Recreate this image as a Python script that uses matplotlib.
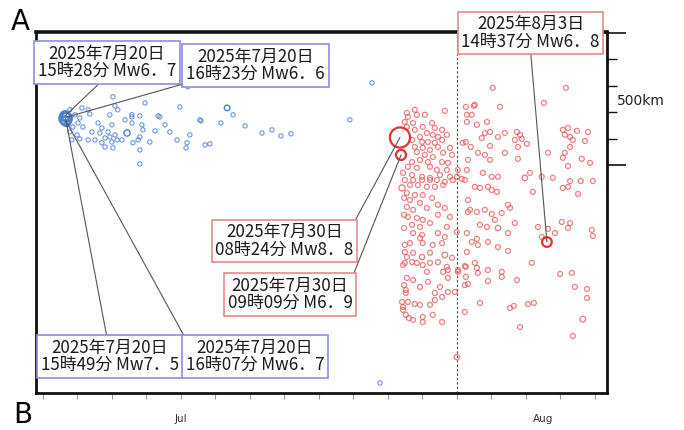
import numpy as np
import matplotlib.pyplot as plt

plt.rcParams['font.family'] = ['Noto Sans CJK JP', 'DejaVu Sans']

# time axis: day of July 2025 (32 = 1 Aug), y: distance along the trench in km

# aftershocks of the 20 Jul sequence (blue), small events
blue_t = [21.13, 21.31, 21.36, 21.07, 21.02, 20.87, 21.16, 20.99, 21.07, 21.31,
          21.60, 21.71, 21.94, 22.00, 21.89, 21.65, 21.80, 21.94, 22.09, 21.71,
          22.00, 21.80, 22.15, 22.03, 22.58, 22.58, 22.81, 22.87, 22.90, 22.76,
          22.81, 22.81, 22.61, 23.25, 23.34, 23.68, 23.89, 23.97, 24.18, 24.15,
          24.58, 24.70, 24.84, 25.16, 25.51, 25.86, 26.35, 26.64, 26.90, 27.19,
          22.81, 22.03, 22.09, 22.96, 23.39, 24.55, 22.58, 29.54, 28.90, 29.77,
          24.20, 20.78, 20.93, 20.72, 20.78, 20.84, 21.42, 21.51, 22.29, 22.38,
          22.17, 23.10, 23.54, 24.26]
blue_km = [1080, 1073, 1057, 1042, 1023, 1008, 1008, 978, 963, 959,
           1023, 1004, 1054, 1016, 989, 985, 966, 970, 978, 948,
           951, 932, 959, 929, 1054, 1023, 1050, 1016, 997, 959,
           970, 921, 948, 993, 1050, 989, 959, 1084, 948, 929,
           1031, 940, 944, 1023, 1054, 1012, 985, 997, 974, 982,
           868, 1122, 1088, 1099, 1046, 1035, 1046, 1175, 1035, 38,
           1160, 1073, 1054, 1027, 989, 959, 989, 959, 959, 1035,
           1073, 951, 1016, 978]
blue_big_t = [22.44, 25.34, 20.70]
blue_big_km = [985, 1080, 1020]
blue_big_mag = [5.6, 5.3, 5.4]

# 20 Jul main events
blue_main_t = [20.644, 20.659, 20.671, 20.682]
blue_main_km = [1050, 1040, 1030, 1045]
blue_main_mag = [6.7, 7.5, 6.7, 6.6]
blue_main_text = ['2025年7月20日\n15時28分 Mw6．7',
                  '2025年7月20日\n15時49分 Mw7．5',
                  '2025年7月20日\n16時07分 Mw6．7',
                  '2025年7月20日\n16時23分 Mw6．6']

# aftershocks of the 30 Jul sequence (red), small events
red_t = [30.55, 30.78, 30.84, 31.07, 31.65, 30.49, 30.73, 30.55, 30.78, 31.01,
         31.28, 31.36, 31.57, 31.13, 30.93, 31.30, 31.45, 31.71, 30.70, 30.99,
         31.16, 31.36, 31.57, 30.78, 31.01, 31.22, 31.45, 31.80, 30.84, 31.07,
         31.30, 31.60, 31.86, 30.70, 30.93, 31.16, 31.57, 31.74, 30.58, 30.84,
         31.22, 31.42, 31.71, 32.03, 30.44, 30.70, 30.99, 31.22, 31.51, 31.80,
         32.00, 30.49, 30.73, 30.99, 31.22, 31.42, 31.65, 31.88, 32.14, 30.64,
         30.87, 31.13, 31.36, 31.60, 30.55, 30.78, 31.01, 31.28, 30.64, 30.93,
         31.45, 30.55, 30.73, 31.13, 31.65, 30.58, 30.84, 31.01, 31.45, 31.80,
         30.70, 30.93, 31.22, 31.71, 30.73, 30.99, 31.45, 32.00, 32.26, 32.29,
         32.26, 32.23, 32.29,
         30.93, 31.65, 30.49, 30.64, 31.01, 31.30, 31.57, 30.49, 30.73, 30.55,
         31.22, 31.86, 30.49, 30.70, 30.84, 31.01, 31.22, 31.45, 31.71, 31.13,
         31.60, 31.74, 32.03, 31.74, 30.55, 30.73, 31.16, 31.51, 30.52, 30.52,
         31.36, 31.57, 31.74, 31.94, 31.36, 30.41, 30.58, 30.78, 30.93, 31.22,
         30.44, 30.44, 30.73, 31.01, 31.01, 31.30, 31.57, 32.23, 32.29, 32.26,
         32.26,
         33.04, 35.16, 32.52, 33.25, 34.52, 32.43, 32.87, 32.29, 32.58, 32.96,
         32.81, 33.39, 33.19, 33.74, 33.83, 32.72, 33.68, 33.88, 34.03, 35.07,
         35.22, 35.48, 35.80, 35.13, 35.28, 35.36, 35.71, 32.17, 32.40, 32.96,
         33.77, 35.28, 32.61, 32.81, 33.39, 34.64, 35.13, 32.32, 32.96, 33.77,
         35.07, 35.62, 35.86, 35.22, 32.29, 32.75, 33.01, 33.19, 34.12, 34.46,
         34.78, 35.28, 35.94, 32.52, 32.67, 32.90, 33.01, 33.16, 34.20, 35.07,
         35.22, 35.51, 32.32, 33.48, 33.54, 32.32, 32.58, 32.81, 33.01, 33.30,
         33.10, 33.68, 32.67, 32.87, 33.48, 34.35, 34.64, 35.04, 35.28, 35.22,
         35.91, 35.94, 32.43, 32.58, 32.61, 32.90, 33.19, 33.48, 34.46, 34.84,
         32.03, 32.23, 32.52, 32.58, 32.61, 32.90, 33.30, 33.30, 33.74, 34.17,
         32.32, 32.90, 34.99, 35.33, 35.42, 35.77, 35.77, 32.67, 33.54, 33.65,
         34.06, 34.23, 33.83, 35.36,
         30.58, 32.49, 32.38, 32.23, 30.47, 30.47, 30.47, 30.44, 30.47, 30.52,
         30.61]
red_km = [1061, 1073, 1054, 1054, 1069, 1027, 1023, 1008, 997, 1008,
          1023, 1004, 997, 985, 970, 978, 970, 978, 959, 951,
          951, 948, 959, 932, 929, 921, 932, 929, 913, 902,
          894, 910, 902, 875, 883, 875, 875, 872, 857, 853,
          857, 845, 845, 845, 834, 826, 819, 815, 826, 819,
          819, 807, 807, 807, 807, 807, 800, 807, 811, 788,
          788, 781, 781, 788, 758, 750, 750, 739, 731, 720,
          713, 705, 694, 701, 701, 667, 663, 656, 675, 667,
          637, 629, 644, 629, 606, 599, 606, 610, 1084, 1054,
          951, 807, 606,
          587, 591, 561, 568, 568, 561, 568, 534, 531, 515,
          531, 512, 493, 496, 493, 485, 493, 496, 478, 459,
          459, 466, 459, 436, 436, 428, 421, 402, 390, 379,
          379, 364, 383, 383, 352, 345, 345, 337, 334, 334,
          326, 315, 277, 288, 269, 296, 269, 307, 534, 478,
          440,
          1156, 1156, 1092, 1084, 1099, 1054, 1027, 1027, 1016, 989,
          985, 985, 970, 989, 978, 966, 959, 963, 944, 997,
          1004, 993, 989, 978, 970, 959, 955, 948, 932, 936,
          932, 932, 910, 902, 910, 910, 910, 883, 883, 887,
          891, 887, 872, 860, 845, 834, 819, 819, 834, 819,
          815, 803, 803, 781, 777, 781, 769, 762, 762, 777,
          781, 754, 731, 713, 701, 686, 686, 694, 678, 682,
          656, 644, 637, 629, 606, 629, 622, 648, 644, 625,
          618, 595, 572, 584, 561, 572, 553, 538, 591, 606,
          466, 481, 493, 474, 455, 466, 459, 440, 428, 493,
          413, 424, 451, 455, 402, 394, 360, 341, 322, 330,
          337, 341, 250, 216,
          1046, 1088, 694, 409, 739, 675, 625, 485, 409, 296,
          284]
red_big_t = [30.41, 30.99, 31.65, 32.00, 33.97, 33.19, 35.65, 30.93, 35.59]
red_big_km = [777, 515, 523, 136, 815, 625, 280, 402, 803]
red_big_mag = [5.6, 5.2, 5.4, 5.2, 5.3, 5.3, 5.4, 5.0, 5.0]

# 30 Jul and 3 Aug main events
red_main_t = [30.350, 30.381, 34.609]
red_main_km = [968, 902, 572]
red_main_mag = [8.8, 6.9, 6.8]
red_main_text = ['2025年7月30日\n08時24分 Mw8．8',
                 '2025年7月30日\n09時09分 M6．9',
                 '2025年8月3日\n14時37分 Mw6．8']

blue = '#4a7fd6'
red = '#ee5656'


def ring_size(mag):
    # radius in pixels grows with magnitude, marker size in pt^2
    r = 0.394 * 10 ** (0.16 * np.asarray(mag, dtype=float))
    return (2 * r * 0.72) ** 2


fig = plt.figure(figsize=(6.84, 4.30), dpi=100)
ax = fig.add_axes([0.0526, 0.086, 0.8348, 0.8398])
ax.set_xlim(19.80, 36.35)
ax.set_ylim(0, 1368)

ax.axvline(32, color='#444444', lw=0.8, ls=(0, (2, 2)), zorder=1)

ax.scatter(blue_t, blue_km, s=ring_size([4.6] * len(blue_t)), facecolors='none',
           edgecolors=blue, linewidths=0.8, alpha=0.8, zorder=2)
ax.scatter(blue_big_t, blue_big_km, s=ring_size(blue_big_mag), facecolors='none',
           edgecolors=blue, linewidths=1.0, zorder=2)
ax.scatter(blue_main_t, blue_main_km, s=ring_size(blue_main_mag), facecolors='none',
           edgecolors=blue, linewidths=1.6, zorder=3)

ax.scatter(red_t, red_km, s=ring_size([5.0] * len(red_t)), facecolors='none',
           edgecolors=red, linewidths=0.9, alpha=0.75, zorder=2)
ax.scatter(red_big_t, red_big_km, s=ring_size(red_big_mag), facecolors='none',
           edgecolors=red, linewidths=0.9, alpha=0.8, zorder=2)
ax.scatter(red_main_t, red_main_km, s=ring_size(red_main_mag), facecolors='none',
           edgecolors='#e83030', linewidths=1.6, zorder=3)

# annotation boxes: (event index, box centre in figure fraction, line anchor on box)
blue_boxes = [(0, (0.1564, 0.8547), (0.47, 0.0)),
              (3, (0.3735, 0.8477), (0.0, 0.0)),
              (1, (0.1608, 0.1709), (0.48, 1.0)),
              (2, (0.3728, 0.1709), (0.0, 1.0))]
red_boxes = [(0, (0.4159, 0.4395), (1.0, 1.0)),
             (1, (0.4240, 0.3151), (1.0, 1.0)),
             (2, (0.7756, 0.9233), (0.5, 0.0))]

for i, pos, rel in blue_boxes:
    ax.annotate(blue_main_text[i], xy=(blue_main_t[i], blue_main_km[i]),
                xytext=pos, textcoords='figure fraction', ha='center', va='center',
                fontsize=12.2, linespacing=0.95, color='#1a1a1a',
                bbox=dict(boxstyle='square,pad=0.22', fc='white', ec='#8c8ce6', lw=1.2),
                arrowprops=dict(arrowstyle='-', color='#555555', lw=0.8,
                                relpos=rel, shrinkA=0, shrinkB=0),
                annotation_clip=False, zorder=6)

for i, pos, rel in red_boxes:
    ax.annotate(red_main_text[i], xy=(red_main_t[i], red_main_km[i]),
                xytext=pos, textcoords='figure fraction', ha='center', va='center',
                fontsize=12.2, linespacing=0.95, color='#1a1a1a',
                bbox=dict(boxstyle='square,pad=0.22', fc='white', ec='#e88a8a', lw=1.2),
                arrowprops=dict(arrowstyle='-', color='#555555', lw=0.8,
                                relpos=rel, shrinkA=0, shrinkB=0),
                annotation_clip=False, zorder=6)

for side in ['left', 'right', 'bottom']:
    ax.spines[side].set_linewidth(2)
    ax.spines[side].set_color('#111111')
ax.spines['top'].set_linewidth(2.6)
ax.spines['top'].set_color('#111111')

# day ticks along the bottom
ax.set_xticks(np.arange(20, 37))
ax.tick_params(axis='x', direction='out', length=4, width=0.8, color='#999999',
               labelbottom=False)
ax.text(24, -0.072, 'Jul', transform=ax.get_xaxis_transform(), ha='center',
        va='center', fontsize=7.5, color='#333333', family='DejaVu Sans')
ax.text(34.5, -0.072, 'Aug', transform=ax.get_xaxis_transform(), ha='center',
        va='center', fontsize=7.5, color='#333333', family='DejaVu Sans')

# 500 km scale bar on the right edge
ax.yaxis.tick_right()
ax.set_yticks([864, 1364])
ax.set_yticks([964, 1064, 1164, 1264], minor=True)
ax.tick_params(axis='y', which='major', direction='out', length=14, width=1.2,
               color='#111111', labelright=False, left=False)
ax.tick_params(axis='y', which='minor', direction='out', length=7, width=1.0,
               color='#111111', left=False)
ax.text(1.018, 1105, '500km', transform=ax.get_yaxis_transform(), ha='left',
        va='center', fontsize=10, color='#222222', family='DejaVu Sans')

fig.text(0.016, 0.982, 'A', fontsize=20, va='top', ha='left', family='DejaVu Sans')
fig.text(0.02, 0.068, 'B', fontsize=20, va='top', ha='left', family='DejaVu Sans')

fig.savefig('out.png', dpi=100)
